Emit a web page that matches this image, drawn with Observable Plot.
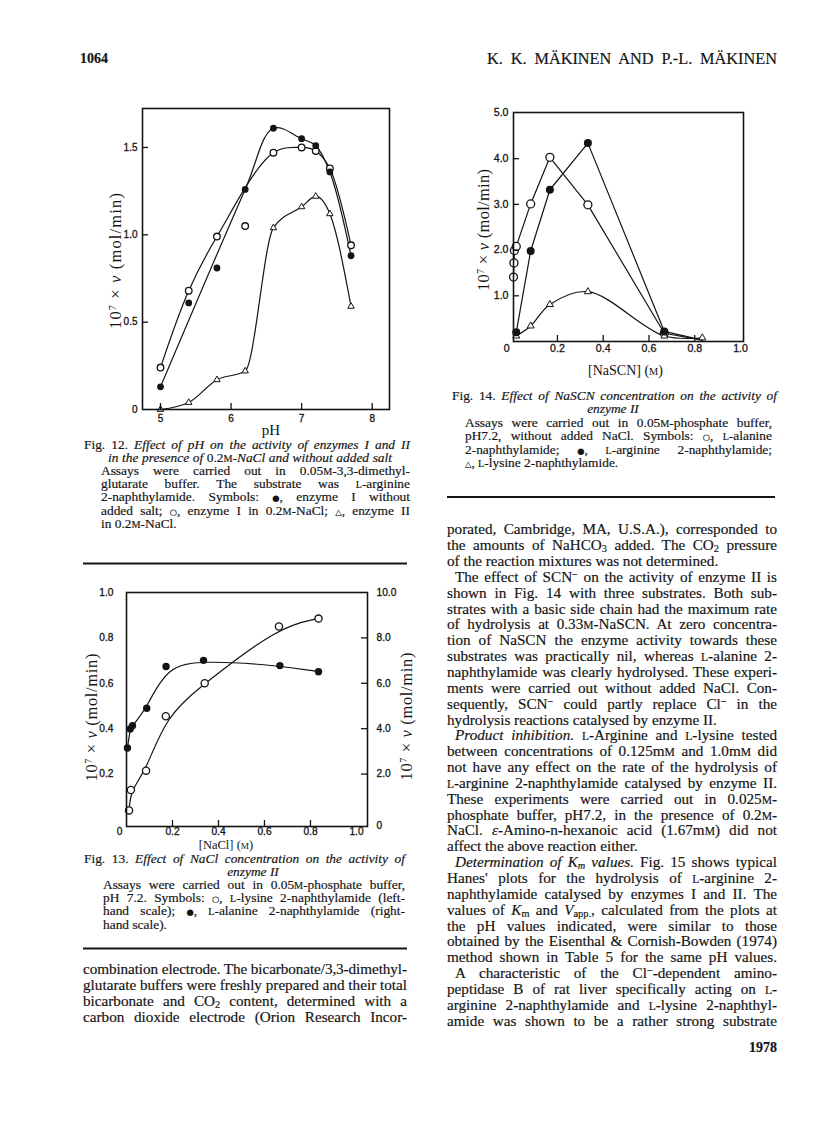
<!DOCTYPE html>
<html><head><meta charset="utf-8">
<script src="https://cdn.jsdelivr.net/npm/d3@7"></script>
<script src="https://cdn.jsdelivr.net/npm/@observablehq/plot@0.6"></script>
<style>
html,body{margin:0;padding:0;background:#fff;}
#page{position:relative;width:816px;height:1136px;overflow:hidden;background:#fff;}
#page svg.fig{position:absolute;}
#overlay{position:absolute;left:0;top:0;pointer-events:none;}
</style></head>
<body><div id="page"></div>
<script>
// ---------- Fig. 12 data: activity vs pH ----------
const pH = [5.0, 5.4, 5.8, 6.2, 6.6, 7.0, 7.2, 7.4, 7.7];
const enzymeINoSalt = [0.13, 0.61, 0.81, 1.26, 1.61, 1.55, 1.51, 1.36, 0.88];   // filled circles
const enzymeINaCl   = [0.24, 0.68, 0.99, 1.05, 1.47, 1.50, 1.48, 1.38, 0.94];   // open circles
const enzymeIINaCl  = [0.00, 0.04, 0.17, 0.22, 1.04, 1.16, 1.22, 1.12, 0.59];   // triangles
const onCurveNoSalt = [true, false, false, true, true, true, true, true, true];
const onCurveNaCl   = [true, true, true, false, true, true, true, true, true];
const pHTicks = [5, 6, 7, 8];
const rateTicks12 = [0, 0.5, 1.0, 1.5];
const rateTickLabels12 = ["0", "0.5", "1.0", "1.5"];

// ---------- Fig. 13 data: activity vs [NaCl] ----------
const naclLysine = [0.011, 0.019, 0.085, 0.171, 0.340, 0.663, 0.835];
const lysineRate = [0.04, 0.13, 0.215, 0.455, 0.60, 0.85, 0.885];          // left-hand scale
const naclAlanine = [0.004, 0.016, 0.026, 0.088, 0.172, 0.335, 0.667, 0.835];
const alanineRate = [3.15, 3.99, 4.13, 4.90, 6.74, 7.01, 6.78, 6.51];      // right-hand scale
const naclTicks = [0.2, 0.4, 0.6, 0.8, 1.0];
const naclTickLabels = ["0.2", "0.4", "0.6", "0.8", "1.0"];
const leftTicks13 = [0.2, 0.4, 0.6, 0.8, 1.0];
const leftTickLabels13 = ["0.2", "0.4", "0.6", "0.8", "1.0"];
const rightTicks13 = [2, 4, 6, 8, 10];
const rightTickLabels13 = ["2.0", "4.0", "6.0", "8.0", "10.0"];
const rightToLeft = 10;

// ---------- Fig. 14 data: activity vs [NaSCN] ----------
const nascnAlanine = [0.008, 0.010, 0.012, 0.02, 0.083, 0.167, 0.333, 0.667, 0.833];
const alanine14    = [1.41, 1.72, 1.99, 2.08, 3.01, 4.03, 2.99, 0.18, 0.03];
const showAlanine  = [true, true, true, true, true, true, true, true, false];
const nascnArginine = [0.02, 0.083, 0.167, 0.333, 0.667, 0.833];
const arginine14    = [0.20, 1.98, 3.32, 4.34, 0.22, 0.03];
const showArginine  = [true, true, true, true, true, false];
const nascnLysine = [0.02, 0.083, 0.167, 0.333, 0.667, 0.833];
const lysine14    = [0.12, 0.34, 0.81, 1.09, 0.12, 0.08];
const nascnTicks = [0.2, 0.4, 0.6, 0.8, 1.0];
const nascnTickLabels = ["0.2", "0.4", "0.6", "0.8", "1.0"];
const rateTicks14 = [1, 2, 3, 4, 5];
const rateTickLabels14 = ["1.0", "2.0", "3.0", "4.0", "5.0"];

// ---------- axis titles ----------
const rateTitle = "10⁷ × v (mol/min)";
const pHTitle = "pH";
const naclTitle = "[NaCl] (M)";
const nascnTitle = "[NaSCN] (M)";
const richLabels = {
  [rateTitle]: '10<tspan font-size="0.62em" baseline-shift="5.5">7</tspan> × <tspan font-style="italic">v</tspan> (mol/min)',
  [naclTitle]: '[NaCl] (<tspan font-size="0.74em">M</tspan>)',
  [nascnTitle]: '[NaSCN] (<tspan font-size="0.74em">M</tspan>)'
};

const INK = "#141414";
const SERIF = "'Liberation Serif','Times New Roman',serif";
const SANS = "'Liberation Sans',Arial,sans-serif";
const page = document.getElementById("page");

function place(svg, left, top, titleLength) {
  svg.classList.add("fig");
  svg.style.left = left + "px";
  svg.style.top = top + "px";
  d3.select(svg).selectAll("text").each(function () {
    const t = this.textContent;
    if (richLabels[t]) {
      this.innerHTML = richLabels[t];
      if (t === rateTitle) {
        this.setAttribute("textLength", titleLength);
        this.setAttribute("lengthAdjust", "spacing");
      }
    }
  });
  d3.select(svg).selectAll("g[aria-label*='tick label']").attr("stroke", INK).attr("stroke-width", 0.3);
  page.appendChild(svg);
}
const lab = (ticks, labels) => d => labels[ticks.indexOf(d)];
const titleStyle = {fontFamily: SERIF, fontSize: 15, fill: INK, text: d => d};
const rateTitleStyle = {...titleStyle, fontSize: 16.5, rotate: -90, lineAnchor: "middle", textAnchor: "middle"};

// ================= Fig. 12 =================
{
  const L = {width: 330, height: 353, ml: 62, mr: 21, mt: 10, mb: 42};
  const W = L.width - L.ml - L.mr, H = L.height - L.mt - L.mb;
  const rows = pH.map((p, i) => ({pH: p, noSalt: enzymeINoSalt[i], nacl: enzymeINaCl[i], enzII: enzymeIINaCl[i],
    fitNoSalt: onCurveNoSalt[i], fitNaCl: onCurveNaCl[i]}));
  const svg = Plot.plot({
    width: L.width, height: L.height, marginLeft: L.ml, marginRight: L.mr, marginTop: L.mt, marginBottom: L.mb,
    x: {domain: [4.745, 8.245]},
    y: {domain: [0, 1.723]},
    style: {fontFamily: SANS, fontSize: "10px", color: INK, background: "transparent", overflow: "visible"},
    marks: [
      Plot.line(rows.filter(d => d.fitNaCl), {x: "pH", y: "nacl", curve: "catmull-rom", stroke: INK, strokeWidth: 1.2}),
      Plot.line(rows.filter(d => d.fitNoSalt), {x: "pH", y: "noSalt", curve: "catmull-rom", stroke: INK, strokeWidth: 1.2}),
      Plot.line(rows, {x: "pH", y: "enzII", curve: "monotone-x", stroke: INK, strokeWidth: 1.2}),
      Plot.dot(rows, {x: "pH", y: "nacl", r: 3.3, fill: "white", stroke: INK, strokeWidth: 1.3}),
      Plot.dot(rows, {x: "pH", y: "noSalt", r: 3.4, fill: INK}),
      Plot.dot(rows, {x: "pH", y: "enzII", symbol: "triangle", r: 2.4, fill: "white", stroke: INK, strokeWidth: 1}),
      Plot.tickX(pHTicks, {x: d => d, insetTop: H - 6, stroke: INK, strokeWidth: 1.3}),
      Plot.tickY(rateTicks12.filter(d => d > 0), {y: d => d, insetRight: W - 6, stroke: INK, strokeWidth: 1.3}),
      Plot.axisX(pHTicks, {tickSize: 0, tickPadding: 5, label: null, tickFormat: d => String(d)}),
      Plot.axisY(rateTicks12, {tickSize: 0, tickPadding: 5, label: null, tickFormat: lab(rateTicks12, rateTickLabels12)}),
      Plot.frame({stroke: INK, strokeWidth: 1.6}),
      Plot.text([pHTitle], {...titleStyle, frameAnchor: "bottom", lineAnchor: "bottom", dy: 25, dx: 5}),
      Plot.text([rateTitle], {...rateTitleStyle, frameAnchor: "left", dx: -27, dy: 2})
    ]
  });
  place(svg, 80, 98, 136);
}

// ================= Fig. 13 =================
{
  const L = {width: 340, height: 277, ml: 46, mr: 53, mt: 13, mb: 30};
  const W = L.width - L.ml - L.mr, H = L.height - L.mt - L.mb;
  const lys = naclLysine.map((x, i) => ({x, v: lysineRate[i]}));
  const ala = naclAlanine.map((x, i) => ({x, v: alanineRate[i]}));
  const svg = Plot.plot({
    width: L.width, height: L.height, marginLeft: L.ml, marginRight: L.mr, marginTop: L.mt, marginBottom: L.mb,
    x: {domain: [0, 1.048]},
    y: {domain: [-0.031, 1.0]},
    style: {fontFamily: SANS, fontSize: "10.2px", color: INK, background: "transparent", overflow: "visible"},
    marks: [
      Plot.line(lys, {x: "x", y: "v", curve: "basis", stroke: INK, strokeWidth: 1.2}),
      Plot.line(ala, {x: "x", y: d => d.v / rightToLeft, curve: "basis", stroke: INK, strokeWidth: 1.2}),
      Plot.dot(lys, {x: "x", y: "v", r: 3.6, fill: "white", stroke: INK, strokeWidth: 1.3}),
      Plot.dot(ala, {x: "x", y: d => d.v / rightToLeft, r: 3.7, fill: INK}),
      Plot.tickX(naclTicks.filter(d => d < 1), {x: d => d, insetTop: H - 6, stroke: INK, strokeWidth: 1.3}),
      Plot.tickY(rightTicks13.filter(d => d < 10), {y: d => d / rightToLeft, insetLeft: W - 6, stroke: INK, strokeWidth: 1.3}),
      Plot.axisX(naclTicks, {tickSize: 0, tickPadding: 1, label: null, tickFormat: lab(naclTicks, naclTickLabels)}),
      Plot.axisX([0], {tickSize: 0, tickPadding: 1, label: null, dx: -7, tickFormat: () => "0"}),
      Plot.axisY(leftTicks13, {anchor: "left", tickSize: 0, tickPadding: 13, label: null, tickFormat: lab(leftTicks13, leftTickLabels13)}),
      Plot.axisY(rightTicks13.map(d => d / rightToLeft), {anchor: "right", tickSize: 0, tickPadding: 9, label: null,
        tickFormat: d => rightTickLabels13[rightTicks13.indexOf(Math.round(d * rightToLeft))]}),
      Plot.axisY([0], {anchor: "right", tickSize: 0, tickPadding: 9, label: null, dy: 6, tickFormat: () => "0"}),
      Plot.frame({stroke: INK, strokeWidth: 1.6}),
      Plot.text([naclTitle], {...titleStyle, fontSize: 12.5, frameAnchor: "bottom", lineAnchor: "bottom", dy: 22, dx: -21}),
      Plot.text([rateTitle], {...rateTitleStyle, frameAnchor: "left", dx: -35, dy: 8}),
      Plot.text([rateTitle], {...rateTitleStyle, frameAnchor: "right", dx: 39, dy: 7})
    ]
  });
  place(svg, 80, 579, 128);
}

// ================= Fig. 14 =================
{
  const L = {width: 313, height: 281, ml: 63, mr: 20, mt: 12, mb: 40};
  const W = L.width - L.ml - L.mr, H = L.height - L.mt - L.mb;
  const ala = nascnAlanine.map((x, i) => ({x, v: alanine14[i], show: showAlanine[i]}));
  const arg = nascnArginine.map((x, i) => ({x, v: arginine14[i], show: showArginine[i]}));
  const lys = nascnLysine.map((x, i) => ({x, v: lysine14[i]}));
  const svg = Plot.plot({
    width: L.width, height: L.height, marginLeft: L.ml, marginRight: L.mr, marginTop: L.mt, marginBottom: L.mb,
    x: {domain: [0.008, 1.013]},
    y: {domain: [0, 5.01]},
    style: {fontFamily: SANS, fontSize: "10.6px", color: INK, background: "transparent", overflow: "visible"},
    marks: [
      Plot.line(ala, {x: "x", y: "v", stroke: INK, strokeWidth: 1.2}),
      Plot.line(arg, {x: "x", y: "v", stroke: INK, strokeWidth: 1.2}),
      Plot.line(lys, {x: "x", y: "v", curve: "catmull-rom", stroke: INK, strokeWidth: 1.2}),
      Plot.dot(ala.filter(d => d.show), {x: "x", y: "v", r: 4, fill: "white", stroke: INK, strokeWidth: 1.3}),
      Plot.dot(lys, {x: "x", y: "v", symbol: "triangle", r: 2.6, fill: "white", stroke: INK, strokeWidth: 1}),
      Plot.dot(arg.filter(d => d.show), {x: "x", y: "v", r: 4, fill: INK}),
      Plot.tickX(nascnTicks.filter(d => d < 1), {x: d => d, insetTop: H - 6, stroke: INK, strokeWidth: 1.3}),
      Plot.tickY(rateTicks14.filter(d => d < 5), {y: d => d, insetRight: W - 6, stroke: INK, strokeWidth: 1.3}),
      Plot.axisX(nascnTicks, {tickSize: 0, tickPadding: 3, label: null, tickFormat: lab(nascnTicks, nascnTickLabels)}),
      Plot.axisX([0], {tickSize: 0, tickPadding: 3, label: null, dx: -5, tickFormat: () => "0"}),
      Plot.axisY(rateTicks14, {tickSize: 0, tickPadding: 5, label: null, tickFormat: lab(rateTicks14, rateTickLabels14)}),
      Plot.frame({stroke: INK, strokeWidth: 1.6}),
      Plot.text([nascnTitle], {...titleStyle, fontSize: 14, frameAnchor: "bottom", lineAnchor: "bottom", dy: 33, dx: -3}),
      Plot.text([rateTitle], {...rateTitleStyle, frameAnchor: "left", dx: -30, dy: 3})
    ]
  });
  place(svg, 450, 100, 122);
}

// ================= page text (header, captions, body) =================
const header = ["1064", "K. K. MÄKINEN AND P.-L. MÄKINEN", "1978"];

const caption12 = [
  "Fig. 12. <i>Effect of pH on the activity of enzymes I and II</i>",
  "<i>in the presence of </i>0.2<sc>M</sc><i>-NaCl and without added salt</i>",
  "Assays were carried out in 0.05<sc>M</sc>-3,3-dimethyl-",
  "glutarate buffer. The substrate was <sc>L</sc>-arginine",
  "2-naphthylamide. Symbols: <sym>●</sym>, enzyme I without",
  "added salt; <sym>○</sym>, enzyme I in 0.2<sc>M</sc>-NaCl; <sym>△</sym>, enzyme II",
  "in 0.2<sc>M</sc>-NaCl."
];
const caption13 = [
  "Fig. 13. <i>Effect of NaCl concentration on the activity of</i>",
  "<i>enzyme II</i>",
  "Assays were carried out in 0.05<sc>M</sc>-phosphate buffer,",
  "pH 7.2. Symbols: <sym>○</sym>, <sc>L</sc>-lysine 2-naphthylamide (left-",
  "hand scale); <sym>●</sym>, <sc>L</sc>-alanine 2-naphthylamide (right-",
  "hand scale)."
];
const caption14 = [
  "Fig. 14. <i>Effect of NaSCN concentration on the activity of</i>",
  "<i>enzyme II</i>",
  "Assays were carried out in 0.05<sc>M</sc>-phosphate buffer,",
  "pH7.2, without added NaCl. Symbols: <sym>○</sym>, <sc>L</sc>-alanine",
  "2-naphthylamide; <sym>●</sym>, <sc>L</sc>-arginine 2-naphthylamide;",
  "<sym>△</sym>, <sc>L</sc>-lysine 2-naphthylamide."
];
const bodyLeft = [
  "combination electrode. The bicarbonate/3,3-dimethyl-",
  "glutarate buffers were freshly prepared and their total",
  "bicarbonate and CO<sub>2</sub> content, determined with a",
  "carbon dioxide electrode (Orion Research Incor-"
];
// [text, paragraph indent, justified]
const bodyRight = [
  ["porated, Cambridge, MA, U.S.A.), corresponded to", 0, 1],
  ["the amounts of NaHCO<sub>3</sub> added. The CO<sub>2</sub> pressure", 0, 1],
  ["of the reaction mixtures was not determined.", 0, 0],
  ["The effect of SCN<sup>−</sup> on the activity of enzyme II is", 1, 1],
  ["shown in Fig. 14 with three substrates. Both sub-", 0, 1],
  ["strates with a basic side chain had the maximum rate", 0, 1],
  ["of hydrolysis at 0.33<sc>M</sc>-NaSCN. At zero concentra-", 0, 1],
  ["tion of NaSCN the enzyme activity towards these", 0, 1],
  ["substrates was practically nil, whereas <sc>L</sc>-alanine 2-", 0, 1],
  ["naphthylamide was clearly hydrolysed. These experi-", 0, 1],
  ["ments were carried out without added NaCl. Con-", 0, 1],
  ["sequently, SCN<sup>−</sup> could partly replace Cl<sup>−</sup> in the", 0, 1],
  ["hydrolysis reactions catalysed by enzyme II.", 0, 0],
  ["<i>Product inhibition.</i> <sc>L</sc>-Arginine and <sc>L</sc>-lysine tested", 1, 1],
  ["between concentrations of 0.125m<sc>M</sc> and 1.0m<sc>M</sc> did", 0, 1],
  ["not have any effect on the rate of the hydrolysis of", 0, 1],
  ["<sc>L</sc>-arginine 2-naphthylamide catalysed by enzyme II.", 0, 1],
  ["These experiments were carried out in 0.025<sc>M</sc>-", 0, 1],
  ["phosphate buffer, pH7.2, in the presence of 0.2<sc>M</sc>-", 0, 1],
  ["NaCl. <i>ε</i>-Amino-n-hexanoic acid (1.67m<sc>M</sc>) did not", 0, 1],
  ["affect the above reaction either.", 0, 0],
  ["<i>Determination of K<sub>m</sub> values.</i> Fig. 15 shows typical", 1, 1],
  ["Hanes' plots for the hydrolysis of <sc>L</sc>-arginine 2-", 0, 1],
  ["naphthylamide catalysed by enzymes I and II. The", 0, 1],
  ["values of <i>K</i><sub>m</sub> and <i>V</i><sub>app.</sub>, calculated from the plots at", 0, 1],
  ["the pH values indicated, were similar to those", 0, 1],
  ["obtained by the Eisenthal &amp; Cornish-Bowden (1974)", 0, 1],
  ["method shown in Table 5 for the same pH values.", 0, 1],
  ["A characteristic of the Cl<sup>−</sup>-dependent amino-", 1, 1],
  ["peptidase B of rat liver specifically acting on <sc>L</sc>-", 0, 1],
  ["arginine 2-naphthylamide and <sc>L</sc>-lysine 2-naphthyl-", 0, 1],
  ["amide was shown to be a rather strong substrate", 0, 1]
];

function rich(s) {
  return s
    .replace(/<i>/g, '<tspan font-style="italic">').replace(/<\/i>/g, '</tspan>')
    .replace(/<sc>/g, '<tspan font-size="0.76em">').replace(/<\/sc>/g, '</tspan>')
    .replace(/<sub>/g, '<tspan font-size="0.68em" baseline-shift="-2">').replace(/<\/sub>/g, '</tspan>')
    .replace(/<sup>/g, '<tspan font-size="0.68em" baseline-shift="4">').replace(/<\/sup>/g, '</tspan>')
    .replace(/<sym>/g, '<tspan font-size="0.62em" font-family="DejaVu Sans">').replace(/<\/sym>/g, '</tspan>');
}
const ov = d3.select(page).append("svg").attr("id", "overlay").attr("width", 816).attr("height", 1136)
  .attr("font-family", SERIF).attr("fill", INK).attr("stroke", INK).attr("stroke-width", 0.18);
function line(x, y, s, o = {}) {
  const t = ov.append("text").attr("x", x).attr("y", y).attr("font-size", o.size || 15.2)
    .attr("text-anchor", o.anchor || "start");
  if (o.weight) t.attr("font-weight", o.weight);
  t.html(rich(s));
  if (o.width) {
    const node = t.node();
    const natural = node.getComputedTextLength();
    const spaces = (node.textContent.match(/ /g) || []).length;
    if (natural < o.width && spaces > 0) t.attr("word-spacing", ((o.width - natural) / spaces).toFixed(2));
    t.attr("textLength", o.width).attr("lengthAdjust", "spacing");
  }
}
function rule(x1, x2, y) {
  ov.append("line").attr("x1", x1).attr("x2", x2).attr("y1", y).attr("y2", y)
    .attr("stroke", INK).attr("stroke-width", 1.8);
}

// header and folio
line(80, 63, header[0], {size: 14, weight: "bold"});
line(487, 64, header[1], {size: 16.3, width: 290});
line(777, 1052, header[2], {size: 14, weight: "bold", anchor: "end"});

const CAP = 13.4;
function caption(lines, y0, dy, tx0, tx1, bx0, bx1, cx, cw) {
  lines.forEach((s, i) => {
    const y = y0 + i * dy;
    if (i === 0) line(tx0, y, s, {size: CAP, width: tx1 - tx0});
    else if (i === 1 && s.startsWith("<i>")) line(cx, y, s, cw ? {size: CAP, anchor: "middle", width: cw} : {size: CAP, anchor: "middle"});
    else if (i === lines.length - 1) line(bx0, y, s, {size: CAP});
    else line(bx0, y, s, {size: CAP, width: bx1 - bx0});
  });
}
caption(caption12, 448.5, 13.2, 84, 410, 101, 410, 250, 284);
caption(caption13, 863, 13.1, 84, 405, 103, 405, 253, 0);
caption(caption14, 399.5, 13.5, 452, 777, 465, 772, 613, 0);

rule(83, 407, 563.5);
rule(83, 407, 948.5);
rule(447, 775, 497);

bodyLeft.forEach((s, i) => line(83, 974.3 + i * 15.8, s, {width: 324}));
bodyRight.forEach(([s, ind, just], i) => {
  const x = ind ? 455 : 447;
  line(x, 534.3 + i * 15.85, s, just ? {width: 777 - x} : {});
});
</script>
</body></html>
